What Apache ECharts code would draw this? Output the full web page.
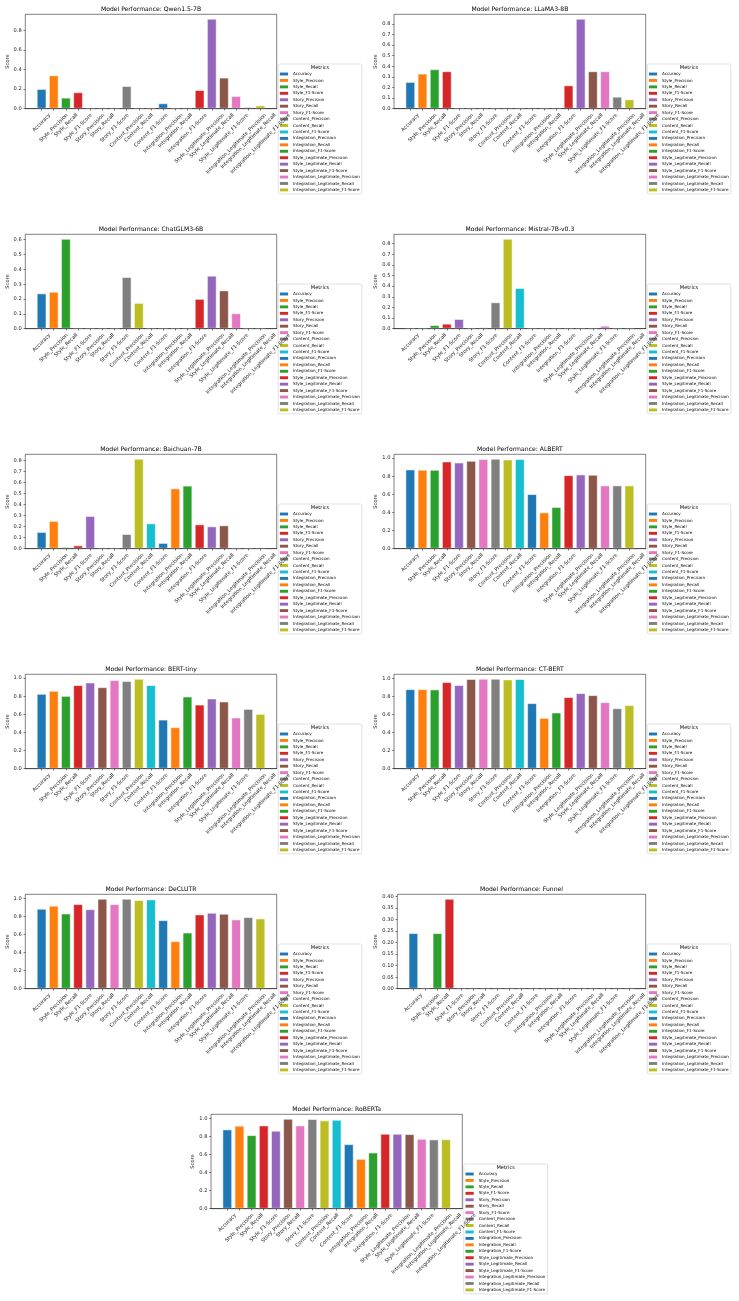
<!DOCTYPE html>
<html>
<head>
<meta charset="utf-8">
<script src="https://cdn.jsdelivr.net/npm/echarts@6/dist/echarts.min.js"></script>
<style>
  html, body { margin: 0; padding: 0; background: #fff; }
  #main { width: 739px; height: 1301px; }
</style>
</head>
<body>
<div id="main"></div>
<script>
const metrics = [
  'Accuracy', 'Style_Precision', 'Style_Recall', 'Style_F1-Score',
  'Story_Precision', 'Story_Recall', 'Story_F1-Score',
  'Content_Precision', 'Content_Recall', 'Content_F1-Score',
  'Integration_Precision', 'Integration_Recall', 'Integration_F1-Score',
  'Style_Legitimate_Precision', 'Style_Legitimate_Recall', 'Style_Legitimate_F1-Score',
  'Integration_Legitimate_Precision', 'Integration_Legitimate_Recall', 'Integration_Legitimate_F1-Score'
];
const models = ['Qwen1.5-7B', 'LLaMA3-8B', 'ChatGLM3-6B', 'Mistral-7B-v0.3', 'Baichuan-7B',
  'ALBERT', 'BERT-tiny', 'CT-BERT', 'DeCLUTR', 'Funnel', 'RoBERTa'];

const qwen     = [0.202, 0.342, 0.113, 0.168, 0, 0, 0, 0.232, 0, 0, 0.055, 0.006, 0.006, 0.191, 0.920, 0.318, 0.130, 0.017, 0.034];
const llama    = [0.252, 0.331, 0.372, 0.353, 0, 0, 0, 0, 0, 0, 0, 0, 0, 0.220, 0.848, 0.353, 0.353, 0.113, 0.088];
const chatglm  = [0.238, 0.249, 0.606, 0, 0, 0, 0, 0.348, 0.174, 0, 0, 0, 0, 0.201, 0.357, 0.258, 0.104, 0, 0];
const mistral  = [0, 0, 0.034, 0.047, 0.091, 0.006, 0.013, 0.248, 0.845, 0.382, 0, 0, 0, 0, 0, 0, 0.028, 0.006, 0.008];
const baichuan = [0.152, 0.252, 0.015, 0.030, 0.297, 0, 0, 0.133, 0.817, 0.230, 0.052, 0.548, 0.573, 0.221, 0.203, 0.212, 0.003, 0.006, 0];
const albert   = [0.875, 0.872, 0.871, 0.963, 0.952, 0.971, 0.989, 0.993, 0.985, 0.989, 0.603, 0.401, 0.460, 0.812, 0.820, 0.816, 0.699, 0.699, 0.699];
const berttiny = [0.827, 0.860, 0.804, 0.923, 0.952, 0.900, 0.978, 0.967, 0.993, 0.923, 0.542, 0.458, 0.797, 0.708, 0.775, 0.742, 0.565, 0.660, 0.605];
const ctbert   = [0.881, 0.881, 0.878, 0.959, 0.926, 0.993, 0.996, 0.996, 0.989, 0.993, 0.726, 0.563, 0.622, 0.793, 0.837, 0.815, 0.737, 0.670, 0.704];
const declutr  = [0.885, 0.919, 0.833, 0.937, 0.881, 0.996, 0.937, 0.996, 0.981, 0.989, 0.759, 0.526, 0.622, 0.822, 0.841, 0.830, 0.767, 0.793, 0.778];
const funnel   = [0.241, 0, 0.241, 0.390, 0, 0, 0, 0, 0, 0, 0, 0, 0, 0, 0, 0, 0, 0, 0];
const roberta  = [0.878, 0.919, 0.815, 0.922, 0.863, 0.996, 0.922, 0.993, 0.978, 0.985, 0.715, 0.552, 0.622, 0.830, 0.830, 0.826, 0.774, 0.767, 0.770];
const scores = [qwen, llama, chatglm, mistral, baichuan, albert, berttiny, ctbert, declutr, funnel, roberta];
const yStep = [0.2, 0.1, 0.1, 0.1, 0.1, 0.2, 0.2, 0.2, 0.2, 0.05, 0.2];

const colors = ['#1f77b4', '#ff7f0e', '#2ca02c', '#d62728', '#9467bd',
  '#8c564b', '#e377c2', '#7f7f7f', '#bcbd22', '#17becf'];

const FONT = 'DejaVu Sans';
const TICK_FS = 5.1, TITLE_FS = 6.1, LEG_FS = 4.1;
const rowTop = [14.3, 234.3, 454.3, 674.3, 894.3, 1114.3];
const axH = 94.4;

const ctx = document.createElement('canvas').getContext('2d');
function textW(t, size) {
  ctx.font = size + 'px "' + FONT + '"';
  return ctx.measureText(t).width;
}

function frameOf(i) {
  const row = Math.floor(i / 2);
  if (i === 10) return { left: 211, right: 462.3, top: rowTop[row] };
  const col = i % 2;
  let left = col === 0 ? 25.3 : 394;
  if (i === 9) left = 397.3;
  return { left: left, right: col === 0 ? 276.7 : 645.7, top: rowTop[row] };
}

// x labels: matplotlib rotation=45 with centred bbox, emulate with padding
const rich = {};
const lblH = TICK_FS * 1.17;
metrics.forEach((m, j) => {
  const p = 0.5 * (textW(m, TICK_FS) + lblH);
  rich['r' + j] = { fontSize: TICK_FS, fontFamily: FONT, color: '#222', padding: [p, p, 0, 0] };
});
const idx = metrics.map((m, j) => j);

const legW = 1.7 + 8.2 + 5 + Math.max(...metrics.map(m => textW(m, LEG_FS))) + 2;

const grid = [], xAxis = [], yAxis = [], series = [], legend = [], graphic = [];
const xMin = -0.4 - 0.05 * 18.8, xMax = 18.4 + 0.05 * 18.8;

models.forEach((name, i) => {
  const f = frameOf(i);
  const w = f.right - f.left;
  grid.push({ left: f.left, top: f.top, width: w, height: axH, show: true,
    borderColor: '#000', borderWidth: 0.5, backgroundColor: 'transparent',
    containLabel: false, outerBoundsMode: 'none' });

  const step = yStep[i];
  const dec = step < 0.1 ? 2 : 1;
  const yMax = Math.max(...scores[i]) * 1.05;
  const yVals = [];
  for (let k = 0; k * step <= yMax + 1e-9; k++) yVals.push(+(k * step).toFixed(4));

  xAxis.push({ type: 'value', gridIndex: i, min: xMin, max: xMax, z: 5,
    axisLine: { show: true, onZero: false, lineStyle: { color: '#000', width: 0.5 } },
    axisTick: { show: true, length: 1.8, customValues: idx, lineStyle: { color: '#000', width: 0.5 } },
    splitLine: { show: false },
    axisLabel: { customValues: idx, rotate: 45, margin: 3.6, align: 'center', verticalAlign: 'middle',
      fontSize: TICK_FS, fontFamily: FONT, color: '#222', rich: rich,
      formatter: v => '{r' + Math.round(v) + '|' + metrics[Math.round(v)] + '}' } });

  yAxis.push({ type: 'value', gridIndex: i, min: 0, max: yMax, z: 5, position: 'left',
    name: 'Score', nameLocation: 'middle', nameGap: dec === 2 ? 16 : 13,
    nameTextStyle: { fontSize: TICK_FS, fontFamily: FONT, color: '#222' },
    axisLine: { show: false, onZero: false },
    axisTick: { show: true, length: 1.8, customValues: yVals, lineStyle: { color: '#000', width: 0.5 } },
    splitLine: { show: false },
    axisLabel: { customValues: yVals, margin: 3.6, fontSize: TICK_FS, fontFamily: FONT, color: '#222',
      formatter: v => v.toFixed(dec) } });

  metrics.forEach((m, j) => {
    series.push({ type: 'bar', name: m, xAxisIndex: i, yAxisIndex: i,
      data: [[j, scores[i][j]]], barWidth: '80%', barGap: '-100%',
      itemStyle: { color: colors[j % 10], borderColor: 'rgba(255,255,255,0.6)', borderWidth: 0.9 },
      emphasis: { disabled: true }, animation: false });
  });

  const lgLeft = f.right + 1.5, lgTop = f.top + 49.7;
  legend.push({ orient: 'vertical', left: lgLeft, top: lgTop, data: metrics, icon: 'rect',
    itemWidth: 8.2, itemHeight: 2.9, itemGap: 1.94, padding: [7.75, 2, 1.75, 1.7],
    textStyle: { fontSize: LEG_FS, fontFamily: FONT, color: '#000', lineHeight: 4.5 },
    itemStyle: { borderWidth: 0 },
    borderColor: '#ccc', borderWidth: 0.6, borderRadius: 1.5, backgroundColor: 'rgba(255,255,255,0.8)' });

  graphic.push({ type: 'text', x: f.left + w / 2, y: f.top - 5, z: 100,
    style: { text: 'Model Performance: ' + name, fontSize: TITLE_FS, fontFamily: FONT, fill: '#000',
      textAlign: 'center', textVerticalAlign: 'middle' } });
  graphic.push({ type: 'text', x: lgLeft + legW / 2, y: lgTop + 3.4, z: 100,
    style: { text: 'Metrics', fontSize: TICK_FS, fontFamily: FONT, fill: '#000',
      textAlign: 'center', textVerticalAlign: 'middle' } });
});

const chart = echarts.init(document.getElementById('main'), null, { renderer: 'canvas' });
chart.setOption({
  backgroundColor: '#fff',
  animation: false,
  tooltip: { show: false },
  grid: grid, xAxis: xAxis, yAxis: yAxis, series: series, legend: legend, graphic: graphic
});
</script>
</body>
</html>
